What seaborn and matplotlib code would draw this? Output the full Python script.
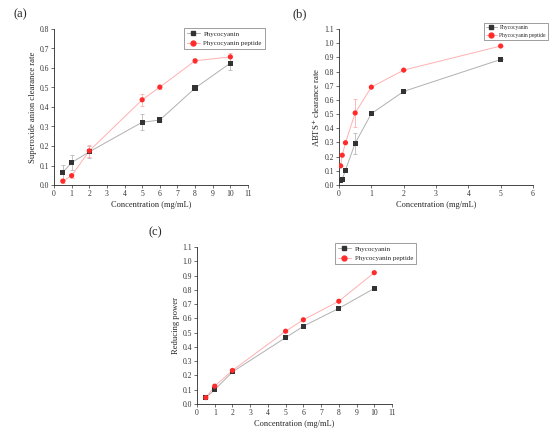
import numpy as np
import pandas as pd
import matplotlib
matplotlib.use('Agg')
import matplotlib.pyplot as plt
import seaborn as sns

# Data
conc_ac = [0.5, 1, 2, 5, 6, 8, 10]
conc_b = [0.05, 0.1, 0.2, 0.5, 1, 2, 5]

sod_pc = [0.065, 0.115, 0.17, 0.322, 0.333, 0.497, 0.625]
sod_pc_err = [0.04, 0.04, 0.03, 0.04, 0.005, 0.01, 0.035]
sod_pp = [0.02, 0.048, 0.175, 0.437, 0.502, 0.637, 0.657]
sod_pp_err = [0.01, 0.01, 0.03, 0.03, 0.01, 0.01, 0.02]

abts_pc = [0.03, 0.04, 0.105, 0.295, 0.503, 0.66, 0.885]
abts_pc_err = [0.0, 0.0, 0.0, 0.075, 0.0, 0.0, 0.0]
abts_pp = [0.135, 0.21, 0.298, 0.508, 0.69, 0.81, 0.98]
abts_pp_err = [0.0, 0.0, 0.0, 0.1, 0.0, 0.0, 0.0]

red_pc = [0.045, 0.1, 0.225, 0.465, 0.545, 0.67, 0.81]
red_pp = [0.045, 0.125, 0.235, 0.51, 0.59, 0.72, 0.92]

series = ['Phycocyanin', 'Phycocyanin peptide']

sns.set_style('ticks')
plt.rcParams['font.family'] = ['Liberation Serif', 'DejaVu Serif']

fig = plt.figure(figsize=(5.5, 4.36), dpi=100)


def px_axes(left, right, top, bottom):
    W, H = 550, 436
    return fig.add_axes([left / W, 1 - bottom / H, (right - left) / W, (bottom - top) / H])


def draw(ax, x, pc, pp, pc_err, pp_err, xmax, ymax, ylabel, letter, legend_box, legend_fs):
    df = pd.DataFrame({
        'x': list(x) * 2,
        'y': list(pc) + list(pp),
        's': [series[0]] * len(x) + [series[1]] * len(x),
    })
    # lighter connecting lines
    sns.lineplot(data=df, x='x', y='y', hue='s', palette=['#b0b0b0', '#ffb0b0'],
                 lw=0.7, legend=False, ax=ax, zorder=1)
    if pc_err is not None:
        ax.errorbar(x, pc, yerr=pc_err, fmt='none', ecolor='#b8b8b8', elinewidth=0.6,
                    capsize=1.5, capthick=0.6, zorder=1)
        ax.errorbar(x, pp, yerr=pp_err, fmt='none', ecolor='#ffb0b0', elinewidth=0.6,
                    capsize=1.5, capthick=0.6, zorder=1)
    sns.scatterplot(data=df, x='x', y='y', hue='s', style='s', markers=['s', 'o'],
                    palette=['#333333', '#ff2a2a'], s=14, linewidth=0, legend=False,
                    ax=ax, zorder=3)
    # legend proxies
    h1 = ax.plot([], [], color='#b0b0b0', lw=0.7, marker='s', mfc='#333333', mec='#333333', ms=3.2)[0]
    h2 = ax.plot([], [], color='#ffb0b0', lw=0.7, marker='o', mfc='#ff2a2a', mec='#ff2a2a', ms=3.5)[0]
    leg = ax.legend([h1, h2], series, loc='upper left', bbox_to_anchor=legend_box,
                    fontsize=legend_fs, frameon=True, fancybox=False, edgecolor='#555555',
                    handlelength=1.9, borderpad=0.4, labelspacing=0.5, handletextpad=0.5,
                    borderaxespad=0)
    leg.get_frame().set_linewidth(0.5)

    ax.set_xlim(0, xmax)
    ax.set_ylim(0, ymax)
    ax.set_xticks(np.arange(0, xmax + 1, 1))
    ax.set_yticks(np.arange(0, ymax + 0.001, 0.1))
    ax.set_yticklabels([f'{v:.1f}' for v in np.arange(0, ymax + 0.001, 0.1)])
    ax.tick_params(labelsize=5.5, length=2, width=0.5, pad=1.5, colors='#333333')
    for sp in ['top', 'right']:
        ax.spines[sp].set_visible(False)
    for sp in ['left', 'bottom']:
        ax.spines[sp].set_linewidth(0.6)
    ax.set_xlabel('Concentration (mg/mL)', fontsize=6, labelpad=2)
    ax.set_ylabel(ylabel, fontsize=6.2, labelpad=2)
    return ax.text(0, 0, letter, transform=fig.transFigure, fontsize=9, ha='center', va='center')


W, H = 550, 436

ax_a = px_axes(54, 248, 29, 185)
t = draw(ax_a, conc_ac, sod_pc, sod_pp, sod_pc_err, sod_pp_err, 11, 0.8,
         'Superoxide anion clearance rate', '(a)', (0.67, 1.006), 5)
t.set_position((20 / W, 1 - 14 / H))

ax_b = px_axes(339, 533, 29, 185)
t = draw(ax_b, conc_b, abts_pc, abts_pp, abts_pc_err, abts_pp_err, 6, 1.1,
         "ABTS$^{+}$ clearance rate", '(b)', (0.747, 1.04), 4)
t.set_position((300 / W, 1 - 14 / H))

ax_c = px_axes(197, 392, 247, 404)
t = draw(ax_c, conc_ac, red_pc, red_pp, None, None, 11, 1.1,
         'Reducing power', '(c)', (0.708, 1.025), 5)
t.set_position((155 / W, 1 - 232 / H))

fig.savefig('out.png', dpi=100)
